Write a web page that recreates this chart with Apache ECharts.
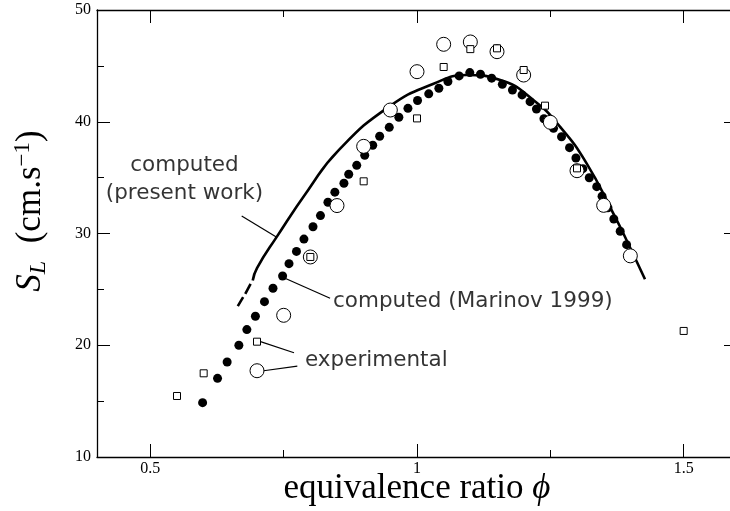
<!DOCTYPE html>
<html><head><meta charset="utf-8">
<script src="https://cdn.jsdelivr.net/npm/echarts@6/dist/echarts.min.js"></script>
<style>html,body{margin:0;padding:0;background:#fff}#c{width:730px;height:511px}</style>
</head><body><div id="c"></div>
<script>
// ---- tick values ----
const xTicksMajor = [0.5, 1, 1.5];
const xTicksMinor = [0.75, 1.25];
const yTicks = [10, 20, 30, 40, 50];

// ---- computed (present work): solid curve ----
const presentWork = [
  [0.664, 23.5], [0.674, 24.3], [0.676, '-'], [0.678, 24.6], [0.688, 25.5], [0.690, '-'],
  [0.692, 25.8], [0.700, 26.9], [0.737, 29.7], [0.796, 33.9], [0.852, 37.4],
  [0.949, 41.4], [1.031, 43.4], [1.093, 44.18], [1.156, 43.74],
  [1.218, 41.95], [1.268, 39.56], [1.318, 36.28], [1.368, 31.8], [1.393, 29.4], [1.4275, 25.9]
];

// ---- computed (Marinov 1999): filled dots ----
const marinov = [
  [0.598, 14.86], [0.626, 17.04], [0.644, 18.5], [0.666, 20.0], [0.681, 21.4], [0.697, 22.6],
  [0.714, 23.9], [0.730, 25.1], [0.748, 26.2], [0.760, 27.3], [0.774, 28.4], [0.788, 29.5],
  [0.805, 30.6], [0.819, 31.6], [0.833, 32.8], [0.846, 33.7], [0.863, 34.5], [0.872, 35.3],
  [0.887, 36.1], [0.902, 37.0], [0.917, 37.9], [0.930, 38.7], [0.948, 39.5], [0.966, 40.4],
  [0.983, 41.2], [1.001, 41.9], [1.022, 42.5], [1.041, 43.0], [1.058, 43.6], [1.079, 44.1],
  [1.099, 44.4], [1.119, 44.25], [1.140, 43.9], [1.160, 43.35], [1.179, 42.84], [1.197, 42.4],
  [1.212, 41.8], [1.224, 41.14], [1.238, 40.27], [1.256, 39.41], [1.271, 38.66], [1.286, 37.68],
  [1.298, 36.76], [1.311, 35.8], [1.323, 34.99], [1.337, 34.19], [1.347, 33.33], [1.358, 32.3],
  [1.369, 31.3], [1.381, 30.2], [1.393, 29.0]
];

// ---- experimental: open circles ----
const expCircles = [
  [0.70, 17.72], [0.75, 22.68], [0.80, 27.9], [0.85, 32.5], [0.90, 37.8], [0.95, 41.05],
  [1.00, 44.48], [1.05, 46.93], [1.10, 47.14], [1.15, 46.27], [1.20, 44.18], [1.25, 39.95],
  [1.30, 35.62], [1.35, 32.52], [1.40, 28.0]
];

// ---- experimental: open squares ----
const expSquares = [
  [0.55, 15.46], [0.60, 17.49], [0.70, 20.32], [0.80, 27.9], [0.90, 34.67], [1.00, 40.3],
  [1.05, 44.9], [1.10, 46.5], [1.15, 46.57], [1.20, 44.63], [1.24, 41.44], [1.30, 35.83],
  [1.50, 21.28]
];

// ---- annotation leader lines (data coords) ----
const leaders = [
  [[0.6713, 31.57], [0.737, 29.66]],
  [[0.7525, 25.99], [0.837, 24.2]],
  [[0.7066, 20.32], [0.7694, 19.33]],
  [[0.7125, 17.72], [0.7756, 18.14]]
];
// ---- annotation texts ----
const annotations = [
  { pos: [0.564, 34.88], text: 'computed\n(present work)', align: 'center' },
  { pos: [0.8425, 23.9], text: 'computed (Marinov 1999)', align: 'left' },
  { pos: [0.790, 18.68], text: 'experimental', align: 'left' }
];

const chart = echarts.init(document.getElementById('c'), null, { renderer: 'canvas' });
const black = '#000';
const serif = '"Liberation Serif", "DejaVu Serif", serif';
const sans = '"DejaVu Sans", Verdana, sans-serif';

function xAx(pos, ticks, len, showLine, labels) {
  return {
    type: 'value', position: pos, min: 0.4, max: 1.6,
    axisLine: { show: showLine, onZero: false, lineStyle: { color: black, width: 1.3 } },
    axisTick: { show: true, inside: true, length: len, customValues: ticks, lineStyle: { color: black, width: 1 } },
    axisLabel: labels ? { show: true, customValues: ticks, formatter: v => String(v), fontFamily: serif, fontSize: 16, color: black, margin: 4 } : { show: false },
    splitLine: { show: false }
  };
}
function yAx(pos, labels) {
  return {
    type: 'value', position: pos, min: 10, max: 50, interval: 10,
    axisLine: { show: true, onZero: false, lineStyle: { color: black, width: 1.3 } },
    axisTick: { show: true, inside: true, length: 13, lineStyle: { color: black, width: 1 } },
    minorTick: { show: true, splitNumber: 2, length: 7, lineStyle: { color: black, width: 1 } },
    axisLabel: labels ? { show: true, fontFamily: serif, fontSize: 16, color: black, margin: 6 } : { show: false },
    splitLine: { show: false }
  };
}

const xMain = xAx('bottom', xTicksMajor, 13, true, true);
xMain.name = '{a|equivalence ratio }{b|ϕ}';
xMain.nameLocation = 'middle';
xMain.nameGap = 14;
xMain.nameMoveOverlap = false;
xMain.nameTextStyle = {
  color: black,
  rich: {
    a: { fontFamily: serif, fontSize: 35, color: black, lineHeight: 36 },
    b: { fontFamily: serif, fontSize: 35, fontStyle: 'italic', color: black, lineHeight: 36 }
  }
};
const yMain = yAx('left', true);
yMain.name = '{s|S}{l|L}{n|  (cm.s}{sup|−1}{n|)}';
yMain.nameLocation = 'middle';
yMain.nameGap = 46;
yMain.nameRotate = 90;
yMain.nameMoveOverlap = false;
yMain.nameTextStyle = {
  color: black,
  padding: [0, 0, 0, 45],
  rich: {
    s: { fontFamily: serif, fontSize: 35, fontStyle: 'italic', color: black, lineHeight: 40 },
    l: { fontFamily: serif, fontSize: 24, fontStyle: 'italic', color: black, lineHeight: 20, verticalAlign: 'bottom' },
    n: { fontFamily: serif, fontSize: 35, color: black, lineHeight: 40 },
    sup: { fontFamily: serif, fontSize: 23, color: black, lineHeight: 16, verticalAlign: 'top' }
  }
};

const series = [
  {
    type: 'line', name: 'computed (present work)', data: presentWork, smooth: 0.5,
    connectNulls: false, showSymbol: false, symbol: 'none',
    lineStyle: { color: black, width: 2.6, opacity: 1 }, z: 2, silent: true
  },
  {
    type: 'scatter', name: 'computed (Marinov 1999)', data: marinov, symbol: 'circle', symbolSize: 9,
    itemStyle: { color: black, opacity: 1 }, z: 3, silent: true
  },
  {
    type: 'scatter', name: 'experimental circles', data: expCircles, symbol: 'circle', symbolSize: 14,
    itemStyle: { color: '#fff', borderColor: black, borderWidth: 1, opacity: 1 }, z: 4, silent: true
  },
  {
    type: 'scatter', name: 'experimental squares', data: expSquares, symbol: 'rect', symbolSize: 7,
    itemStyle: { color: '#fff', borderColor: black, borderWidth: 1, opacity: 1 }, z: 5, silent: true
  }
];
leaders.forEach(seg => series.push({
  type: 'line', data: seg, symbol: 'none', showSymbol: false,
  lineStyle: { color: black, width: 1.2 }, z: 6, silent: true
}));
series.push({
  type: 'scatter', data: annotations.map(a => ({
    value: a.pos,
    label: {
      show: true, formatter: a.text, position: [0, 0], align: a.align, verticalAlign: 'middle',
      fontFamily: sans, fontSize: 21.5, color: '#000', lineHeight: 28
    }
  })),
  symbolSize: 0, silent: true, z: 7
});

chart.setOption({
  animation: false,
  backgroundColor: '#fff',
  grid: { left: 97, right: -7, top: 10, bottom: 54, containLabel: false, outerBoundsMode: 'none' },
  xAxis: [xMain, xAx('bottom', xTicksMinor, 7, false, false), xAx('top', xTicksMajor, 13, true, false), xAx('top', xTicksMinor, 7, false, false)],
  yAxis: [yMain, yAx('right', false)],
  series: series
});
</script>
</body></html>
